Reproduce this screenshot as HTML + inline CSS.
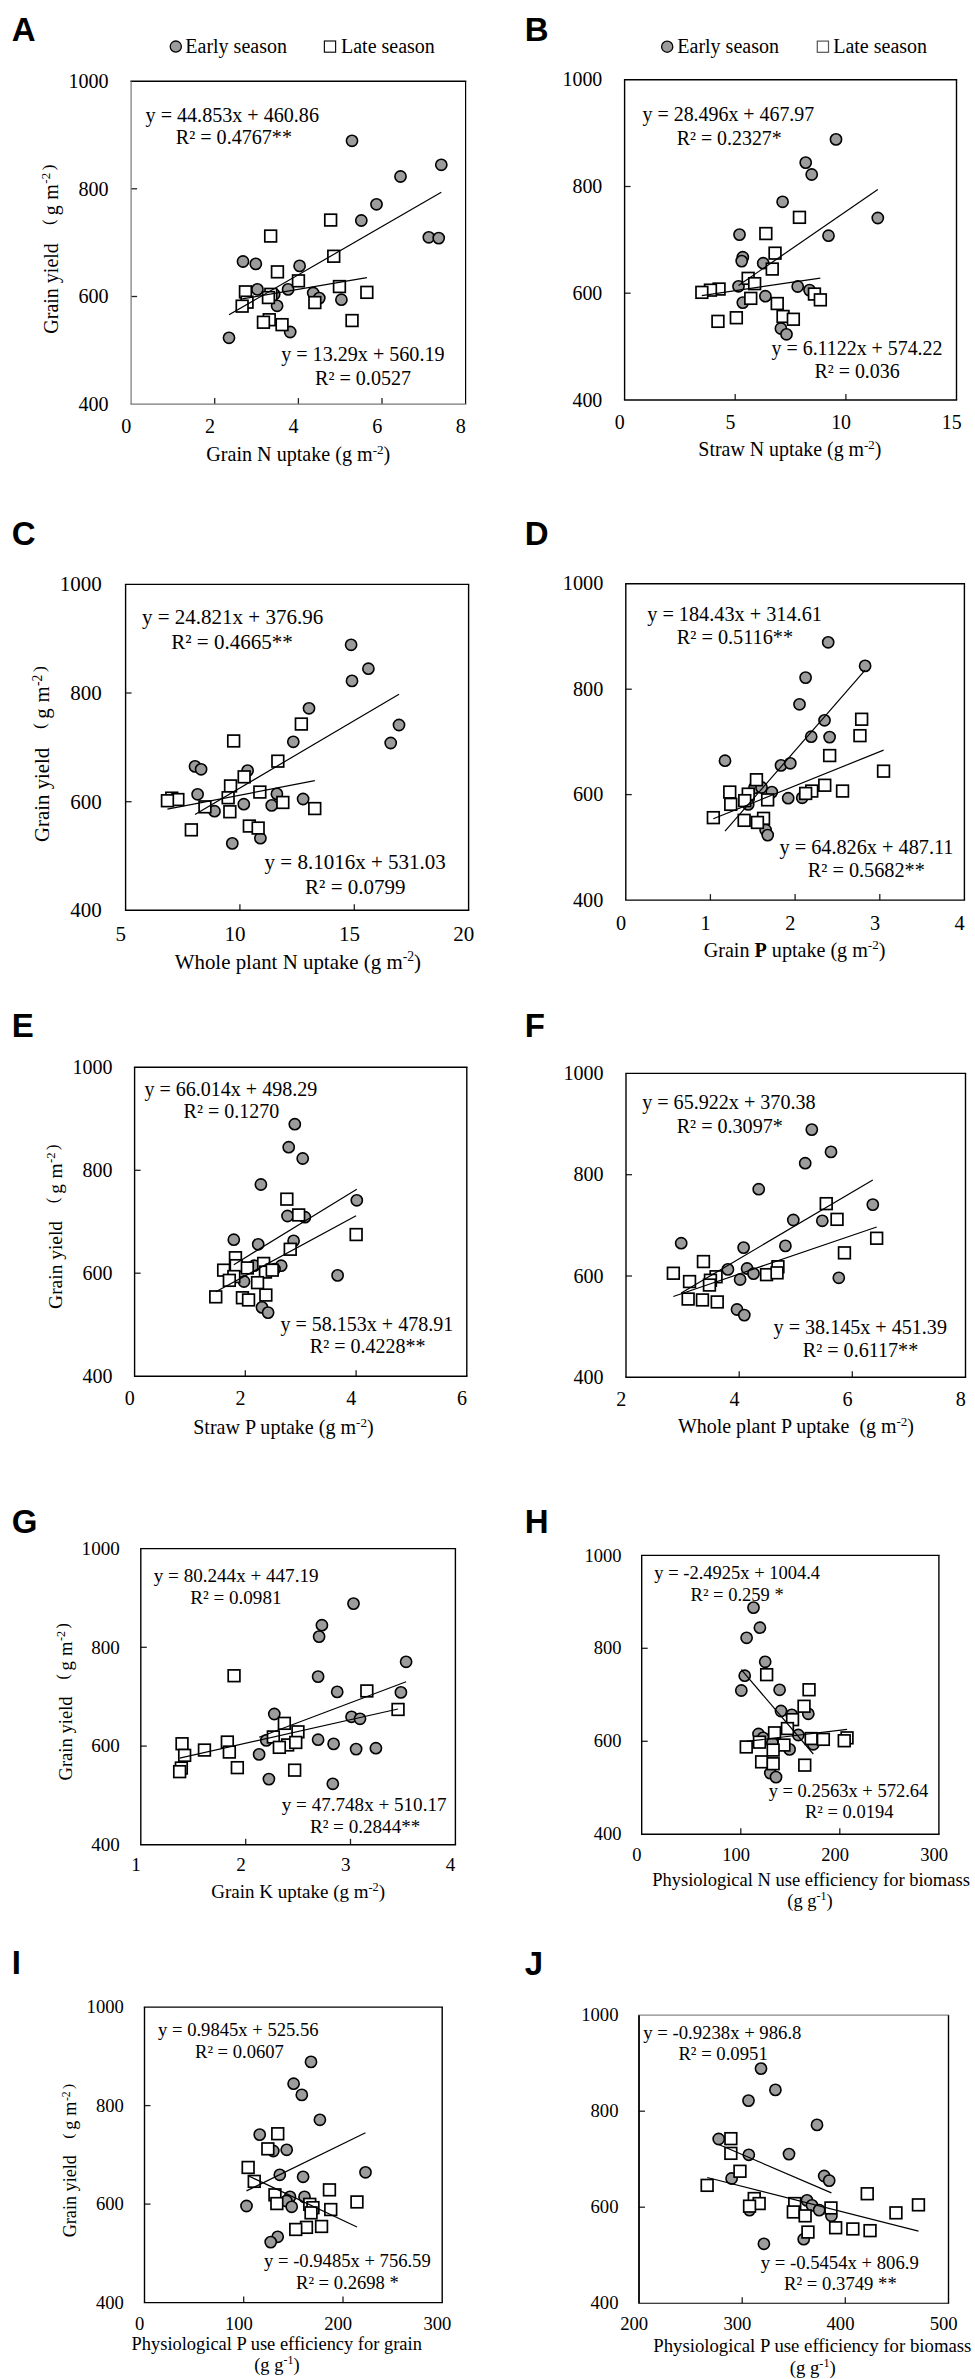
<!DOCTYPE html>
<html><head><meta charset="utf-8"><style>
html,body{margin:0;padding:0;background:#fff;}
body{width:975px;height:2379px;overflow:hidden;}
svg{display:block;font-family:"Liberation Serif", serif;fill:#000;}
svg text{font-family:"Liberation Serif", serif;}
svg text.lt{font-family:"Liberation Sans", sans-serif;font-weight:bold;font-size:33px;}
</style></head><body>
<svg width="975" height="2379" viewBox="0 0 975 2379">
<rect width="975" height="2379" fill="#fff"/>
<g id="pA"><text x="11.8" y="40.7" class="lt">A</text><text x="108.6" y="87.8" text-anchor="end" font-size="20.1">1000</text><text x="108.6" y="195.5" text-anchor="end" font-size="20.1">800</text><line x1="131.1" y1="188.8" x2="137.1" y2="188.8" stroke="#222" stroke-width="1.3"/><text x="108.6" y="303.1" text-anchor="end" font-size="20.1">600</text><line x1="131.1" y1="296.5" x2="137.1" y2="296.5" stroke="#222" stroke-width="1.3"/><text x="108.6" y="410.7" text-anchor="end" font-size="20.1">400</text><text x="126.3" y="433.2" text-anchor="middle" font-size="20.1">0</text><text x="209.9" y="433.2" text-anchor="middle" font-size="20.1">2</text><line x1="214.7" y1="404.1" x2="214.7" y2="398.1" stroke="#222" stroke-width="1.3"/><text x="293.6" y="433.2" text-anchor="middle" font-size="20.1">4</text><line x1="298.4" y1="404.1" x2="298.4" y2="398.1" stroke="#222" stroke-width="1.3"/><text x="377.2" y="433.2" text-anchor="middle" font-size="20.1">6</text><line x1="382.0" y1="404.1" x2="382.0" y2="398.1" stroke="#222" stroke-width="1.3"/><text x="460.8" y="433.2" text-anchor="middle" font-size="20.1">8</text><line x1="130.4" y1="81.2" x2="466.3" y2="81.2" stroke="#000" stroke-width="1.6"/><line x1="465.6" y1="81.2" x2="465.6" y2="404.1" stroke="#000" stroke-width="1.2"/><line x1="130.4" y1="404.1" x2="466.3" y2="404.1" stroke="#777" stroke-width="1.2"/><line x1="131.1" y1="81.2" x2="131.1" y2="404.1" stroke="#777" stroke-width="1.2"/><circle cx="352.0" cy="140.8" r="5.6" fill="#9c9c9c" stroke="#000" stroke-width="1.6"/><circle cx="441.3" cy="164.8" r="5.6" fill="#9c9c9c" stroke="#000" stroke-width="1.6"/><circle cx="400.5" cy="176.5" r="5.6" fill="#9c9c9c" stroke="#000" stroke-width="1.6"/><circle cx="376.5" cy="204.3" r="5.6" fill="#9c9c9c" stroke="#000" stroke-width="1.6"/><circle cx="361.3" cy="220.5" r="5.6" fill="#9c9c9c" stroke="#000" stroke-width="1.6"/><circle cx="428.8" cy="237.3" r="5.6" fill="#9c9c9c" stroke="#000" stroke-width="1.6"/><circle cx="438.7" cy="238.1" r="5.6" fill="#9c9c9c" stroke="#000" stroke-width="1.6"/><circle cx="243.0" cy="261.5" r="5.6" fill="#9c9c9c" stroke="#000" stroke-width="1.6"/><circle cx="255.8" cy="263.9" r="5.6" fill="#9c9c9c" stroke="#000" stroke-width="1.6"/><circle cx="299.6" cy="265.9" r="5.6" fill="#9c9c9c" stroke="#000" stroke-width="1.6"/><circle cx="274.2" cy="294.3" r="5.6" fill="#9c9c9c" stroke="#000" stroke-width="1.6"/><circle cx="257.4" cy="289.4" r="5.6" fill="#9c9c9c" stroke="#000" stroke-width="1.6"/><circle cx="288.1" cy="289.4" r="5.6" fill="#9c9c9c" stroke="#000" stroke-width="1.6"/><circle cx="313.2" cy="293.0" r="5.6" fill="#9c9c9c" stroke="#000" stroke-width="1.6"/><circle cx="319.3" cy="298.1" r="5.6" fill="#9c9c9c" stroke="#000" stroke-width="1.6"/><circle cx="341.4" cy="299.7" r="5.6" fill="#9c9c9c" stroke="#000" stroke-width="1.6"/><circle cx="277.1" cy="305.8" r="5.6" fill="#9c9c9c" stroke="#000" stroke-width="1.6"/><circle cx="290.2" cy="332.0" r="5.6" fill="#9c9c9c" stroke="#000" stroke-width="1.6"/><circle cx="229.0" cy="337.8" r="5.6" fill="#9c9c9c" stroke="#000" stroke-width="1.6"/><rect x="324.8" y="214.2" width="11.7" height="11.7" fill="#fff" stroke="#000" stroke-width="1.7"/><rect x="264.8" y="230.2" width="11.7" height="11.7" fill="#fff" stroke="#000" stroke-width="1.7"/><rect x="327.9" y="250.4" width="11.7" height="11.7" fill="#fff" stroke="#000" stroke-width="1.7"/><rect x="271.6" y="266.0" width="11.7" height="11.7" fill="#fff" stroke="#000" stroke-width="1.7"/><rect x="292.6" y="275.0" width="11.7" height="11.7" fill="#fff" stroke="#000" stroke-width="1.7"/><rect x="333.6" y="280.7" width="11.7" height="11.7" fill="#fff" stroke="#000" stroke-width="1.7"/><rect x="361.0" y="286.5" width="11.7" height="11.7" fill="#fff" stroke="#000" stroke-width="1.7"/><rect x="239.6" y="286.0" width="11.7" height="11.7" fill="#fff" stroke="#000" stroke-width="1.7"/><rect x="265.0" y="288.5" width="11.7" height="11.7" fill="#fff" stroke="#000" stroke-width="1.7"/><rect x="262.6" y="291.7" width="11.7" height="11.7" fill="#fff" stroke="#000" stroke-width="1.7"/><rect x="241.2" y="296.3" width="11.7" height="11.7" fill="#fff" stroke="#000" stroke-width="1.7"/><rect x="236.3" y="300.3" width="11.7" height="11.7" fill="#fff" stroke="#000" stroke-width="1.7"/><rect x="309.0" y="296.7" width="11.7" height="11.7" fill="#fff" stroke="#000" stroke-width="1.7"/><rect x="346.2" y="314.7" width="11.7" height="11.7" fill="#fff" stroke="#000" stroke-width="1.7"/><rect x="263.4" y="313.9" width="11.7" height="11.7" fill="#fff" stroke="#000" stroke-width="1.7"/><rect x="257.6" y="316.4" width="11.7" height="11.7" fill="#fff" stroke="#000" stroke-width="1.7"/><rect x="276.2" y="318.8" width="11.7" height="11.7" fill="#fff" stroke="#000" stroke-width="1.7"/><line x1="229.0" y1="314.8" x2="441.3" y2="192.3" stroke="#000" stroke-width="1.2"/><line x1="242.2" y1="298.9" x2="366.9" y2="277.6" stroke="#000" stroke-width="1.2"/><text x="145.6" y="121.7" font-size="20.1">y = 44.853x + 460.86</text><text x="175.8" y="144.1" font-size="20.1">R² = 0.4767**</text><text x="281.2" y="361.2" font-size="20.1">y = 13.29x + 560.19</text><text x="315.0" y="385.2" font-size="20.1">R² = 0.0527</text><text x="298.3" y="461.2" text-anchor="middle" font-size="20.1">Grain N uptake (g m<tspan dy="-7.2" font-size="13.1">-2</tspan><tspan dy="7.2">)</tspan></text><text transform="translate(57.5,333.7) rotate(-90)" font-size="20.00">Grain yield<tspan x="108.6" y="-3.8" font-size="17.00">(</tspan><tspan x="118.4" y="0">g</tspan><tspan x="133.9">m</tspan><tspan x="150.0" y="-7.2" font-size="13.00">-2</tspan><tspan x="163.4" y="-3.8" font-size="17.00">)</tspan></text></g>
<g id="pB"><text x="524.8" y="40.5" class="lt">B</text><text x="602.3" y="86.3" text-anchor="end" font-size="19.9">1000</text><text x="602.3" y="193.0" text-anchor="end" font-size="19.9">800</text><line x1="624.6" y1="186.5" x2="630.6" y2="186.5" stroke="#222" stroke-width="1.3"/><text x="602.3" y="299.8" text-anchor="end" font-size="19.9">600</text><line x1="624.6" y1="293.2" x2="630.6" y2="293.2" stroke="#222" stroke-width="1.3"/><text x="602.3" y="406.6" text-anchor="end" font-size="19.9">400</text><text x="619.8" y="428.9" text-anchor="middle" font-size="19.9">0</text><text x="730.4" y="428.9" text-anchor="middle" font-size="19.9">5</text><line x1="735.2" y1="400" x2="735.2" y2="394" stroke="#222" stroke-width="1.3"/><text x="841.1" y="428.9" text-anchor="middle" font-size="19.9">10</text><line x1="845.9" y1="400" x2="845.9" y2="394" stroke="#222" stroke-width="1.3"/><text x="951.7" y="428.9" text-anchor="middle" font-size="19.9">15</text><line x1="623.9" y1="79.7" x2="957.2" y2="79.7" stroke="#000" stroke-width="1.4"/><line x1="956.5" y1="79.7" x2="956.5" y2="400" stroke="#000" stroke-width="1.4"/><line x1="623.9" y1="400" x2="957.2" y2="400" stroke="#000" stroke-width="1.4"/><line x1="624.6" y1="79.7" x2="624.6" y2="400" stroke="#000" stroke-width="1.4"/><circle cx="836.0" cy="139.4" r="5.6" fill="#9c9c9c" stroke="#000" stroke-width="1.6"/><circle cx="805.7" cy="162.6" r="5.6" fill="#9c9c9c" stroke="#000" stroke-width="1.6"/><circle cx="811.7" cy="174.5" r="5.6" fill="#9c9c9c" stroke="#000" stroke-width="1.6"/><circle cx="782.6" cy="201.8" r="5.6" fill="#9c9c9c" stroke="#000" stroke-width="1.6"/><circle cx="877.8" cy="218.0" r="5.6" fill="#9c9c9c" stroke="#000" stroke-width="1.6"/><circle cx="739.5" cy="234.6" r="5.6" fill="#9c9c9c" stroke="#000" stroke-width="1.6"/><circle cx="828.5" cy="235.7" r="5.6" fill="#9c9c9c" stroke="#000" stroke-width="1.6"/><circle cx="742.8" cy="257.2" r="5.6" fill="#9c9c9c" stroke="#000" stroke-width="1.6"/><circle cx="741.7" cy="261.1" r="5.6" fill="#9c9c9c" stroke="#000" stroke-width="1.6"/><circle cx="763.2" cy="263.2" r="5.6" fill="#9c9c9c" stroke="#000" stroke-width="1.6"/><circle cx="738.5" cy="286.3" r="5.6" fill="#9c9c9c" stroke="#000" stroke-width="1.6"/><circle cx="797.7" cy="286.5" r="5.6" fill="#9c9c9c" stroke="#000" stroke-width="1.6"/><circle cx="809.5" cy="290.1" r="5.6" fill="#9c9c9c" stroke="#000" stroke-width="1.6"/><circle cx="765.4" cy="296.2" r="5.6" fill="#9c9c9c" stroke="#000" stroke-width="1.6"/><circle cx="742.8" cy="302.6" r="5.6" fill="#9c9c9c" stroke="#000" stroke-width="1.6"/><circle cx="780.9" cy="328.5" r="5.6" fill="#9c9c9c" stroke="#000" stroke-width="1.6"/><circle cx="786.5" cy="334.3" r="5.6" fill="#9c9c9c" stroke="#000" stroke-width="1.6"/><rect x="793.6" y="211.5" width="11.7" height="11.7" fill="#fff" stroke="#000" stroke-width="1.7"/><rect x="760.0" y="227.7" width="11.7" height="11.7" fill="#fff" stroke="#000" stroke-width="1.7"/><rect x="769.2" y="247.3" width="11.7" height="11.7" fill="#fff" stroke="#000" stroke-width="1.7"/><rect x="766.4" y="263.2" width="11.7" height="11.7" fill="#fff" stroke="#000" stroke-width="1.7"/><rect x="742.3" y="272.5" width="11.7" height="11.7" fill="#fff" stroke="#000" stroke-width="1.7"/><rect x="748.8" y="277.8" width="11.7" height="11.7" fill="#fff" stroke="#000" stroke-width="1.7"/><rect x="713.2" y="283.2" width="11.7" height="11.7" fill="#fff" stroke="#000" stroke-width="1.7"/><rect x="704.6" y="284.3" width="11.7" height="11.7" fill="#fff" stroke="#000" stroke-width="1.7"/><rect x="696.0" y="286.5" width="11.7" height="11.7" fill="#fff" stroke="#000" stroke-width="1.7"/><rect x="744.9" y="292.5" width="11.7" height="11.7" fill="#fff" stroke="#000" stroke-width="1.7"/><rect x="771.4" y="297.7" width="11.7" height="11.7" fill="#fff" stroke="#000" stroke-width="1.7"/><rect x="808.6" y="288.2" width="11.7" height="11.7" fill="#fff" stroke="#000" stroke-width="1.7"/><rect x="814.5" y="294.0" width="11.7" height="11.7" fill="#fff" stroke="#000" stroke-width="1.7"/><rect x="777.2" y="310.6" width="11.7" height="11.7" fill="#fff" stroke="#000" stroke-width="1.7"/><rect x="787.5" y="313.4" width="11.7" height="11.7" fill="#fff" stroke="#000" stroke-width="1.7"/><rect x="730.5" y="311.9" width="11.7" height="11.7" fill="#fff" stroke="#000" stroke-width="1.7"/><rect x="712.1" y="315.5" width="11.7" height="11.7" fill="#fff" stroke="#000" stroke-width="1.7"/><line x1="738.5" y1="285.4" x2="877.8" y2="189.6" stroke="#000" stroke-width="1.2"/><line x1="701.8" y1="295.6" x2="820.3" y2="278.1" stroke="#000" stroke-width="1.2"/><text x="642.6" y="121.4" font-size="19.9">y = 28.496x + 467.97</text><text x="676.7" y="145.2" font-size="19.9">R² = 0.2327*</text><text x="771.6" y="354.5" font-size="19.9">y = 6.1122x + 574.22</text><text x="814.5" y="377.5" font-size="19.9">R² = 0.036</text><text x="789.9" y="456.2" text-anchor="middle" font-size="19.9">Straw N uptake (g m<tspan dy="-7.2" font-size="12.9">-2</tspan><tspan dy="7.2">)</tspan></text></g>
<g id="pC"><text x="11.8" y="545" class="lt">C</text><text x="101.7" y="591.3" text-anchor="end" font-size="21.0">1000</text><text x="101.7" y="700.0" text-anchor="end" font-size="21.0">800</text><line x1="125.6" y1="693.0" x2="131.6" y2="693.0" stroke="#222" stroke-width="1.3"/><text x="101.7" y="808.6" text-anchor="end" font-size="21.0">600</text><line x1="125.6" y1="801.7" x2="131.6" y2="801.7" stroke="#222" stroke-width="1.3"/><text x="101.7" y="917.2" text-anchor="end" font-size="21.0">400</text><text x="120.8" y="940.8" text-anchor="middle" font-size="21.0">5</text><text x="235.1" y="940.8" text-anchor="middle" font-size="21.0">10</text><line x1="239.9" y1="910.3" x2="239.9" y2="904.3" stroke="#222" stroke-width="1.3"/><text x="349.5" y="940.8" text-anchor="middle" font-size="21.0">15</text><line x1="354.3" y1="910.3" x2="354.3" y2="904.3" stroke="#222" stroke-width="1.3"/><text x="463.8" y="940.8" text-anchor="middle" font-size="21.0">20</text><line x1="124.89999999999999" y1="584.4" x2="469.3" y2="584.4" stroke="#000" stroke-width="1.4"/><line x1="468.6" y1="584.4" x2="468.6" y2="910.3" stroke="#000" stroke-width="1.4"/><line x1="124.89999999999999" y1="910.3" x2="469.3" y2="910.3" stroke="#000" stroke-width="1.4"/><line x1="125.6" y1="584.4" x2="125.6" y2="910.3" stroke="#000" stroke-width="1.4"/><circle cx="309.0" cy="708.3" r="5.6" fill="#9c9c9c" stroke="#000" stroke-width="1.6"/><circle cx="293.3" cy="741.8" r="5.6" fill="#9c9c9c" stroke="#000" stroke-width="1.6"/><circle cx="195.0" cy="766.4" r="5.6" fill="#9c9c9c" stroke="#000" stroke-width="1.6"/><circle cx="201.1" cy="769.3" r="5.6" fill="#9c9c9c" stroke="#000" stroke-width="1.6"/><circle cx="247.6" cy="770.6" r="5.6" fill="#9c9c9c" stroke="#000" stroke-width="1.6"/><circle cx="197.6" cy="794.3" r="5.6" fill="#9c9c9c" stroke="#000" stroke-width="1.6"/><circle cx="276.9" cy="793.9" r="5.6" fill="#9c9c9c" stroke="#000" stroke-width="1.6"/><circle cx="303.1" cy="799.0" r="5.6" fill="#9c9c9c" stroke="#000" stroke-width="1.6"/><circle cx="243.8" cy="804.2" r="5.6" fill="#9c9c9c" stroke="#000" stroke-width="1.6"/><circle cx="271.7" cy="805.4" r="5.6" fill="#9c9c9c" stroke="#000" stroke-width="1.6"/><circle cx="214.5" cy="811.2" r="5.6" fill="#9c9c9c" stroke="#000" stroke-width="1.6"/><circle cx="260.4" cy="838.2" r="5.6" fill="#9c9c9c" stroke="#000" stroke-width="1.6"/><circle cx="232.3" cy="843.4" r="5.6" fill="#9c9c9c" stroke="#000" stroke-width="1.6"/><circle cx="351.1" cy="644.8" r="5.6" fill="#9c9c9c" stroke="#000" stroke-width="1.6"/><circle cx="368.4" cy="668.7" r="5.6" fill="#9c9c9c" stroke="#000" stroke-width="1.6"/><circle cx="352.0" cy="680.9" r="5.6" fill="#9c9c9c" stroke="#000" stroke-width="1.6"/><circle cx="399.0" cy="725.0" r="5.6" fill="#9c9c9c" stroke="#000" stroke-width="1.6"/><circle cx="390.7" cy="743.0" r="5.6" fill="#9c9c9c" stroke="#000" stroke-width="1.6"/><rect x="295.5" y="718.2" width="11.7" height="11.7" fill="#fff" stroke="#000" stroke-width="1.7"/><rect x="227.8" y="735.1" width="11.7" height="11.7" fill="#fff" stroke="#000" stroke-width="1.7"/><rect x="272.0" y="755.3" width="11.7" height="11.7" fill="#fff" stroke="#000" stroke-width="1.7"/><rect x="238.3" y="771.0" width="11.7" height="11.7" fill="#fff" stroke="#000" stroke-width="1.7"/><rect x="224.7" y="780.1" width="11.7" height="11.7" fill="#fff" stroke="#000" stroke-width="1.7"/><rect x="254.0" y="786.2" width="11.7" height="11.7" fill="#fff" stroke="#000" stroke-width="1.7"/><rect x="222.3" y="791.9" width="11.7" height="11.7" fill="#fff" stroke="#000" stroke-width="1.7"/><rect x="165.9" y="792.3" width="11.7" height="11.7" fill="#fff" stroke="#000" stroke-width="1.7"/><rect x="172.0" y="793.7" width="11.7" height="11.7" fill="#fff" stroke="#000" stroke-width="1.7"/><rect x="161.6" y="794.9" width="11.7" height="11.7" fill="#fff" stroke="#000" stroke-width="1.7"/><rect x="199.1" y="801.0" width="11.7" height="11.7" fill="#fff" stroke="#000" stroke-width="1.7"/><rect x="224.0" y="805.9" width="11.7" height="11.7" fill="#fff" stroke="#000" stroke-width="1.7"/><rect x="277.0" y="796.6" width="11.7" height="11.7" fill="#fff" stroke="#000" stroke-width="1.7"/><rect x="308.9" y="802.7" width="11.7" height="11.7" fill="#fff" stroke="#000" stroke-width="1.7"/><rect x="243.5" y="820.2" width="11.7" height="11.7" fill="#fff" stroke="#000" stroke-width="1.7"/><rect x="252.3" y="822.2" width="11.7" height="11.7" fill="#fff" stroke="#000" stroke-width="1.7"/><rect x="185.5" y="824.0" width="11.7" height="11.7" fill="#fff" stroke="#000" stroke-width="1.7"/><line x1="195.0" y1="814.5" x2="399.0" y2="694.2" stroke="#000" stroke-width="1.2"/><line x1="167.4" y1="809.1" x2="314.8" y2="780.7" stroke="#000" stroke-width="1.2"/><text x="142.0" y="624.2" font-size="21.0">y = 24.821x + 376.96</text><text x="171.3" y="648.8" font-size="21.0">R² = 0.4665**</text><text x="264.6" y="869.2" font-size="21.0">y = 8.1016x + 531.03</text><text x="305.1" y="893.8" font-size="21.0">R² = 0.0799</text><text x="297.9" y="968.5" text-anchor="middle" font-size="20.9">Whole plant N uptake (g m<tspan dy="-7.5" font-size="13.6">-2</tspan><tspan dy="7.5">)</tspan></text><text transform="translate(49,841.9) rotate(-90)" font-size="20.80">Grain yield<tspan x="112.9" y="-4.0" font-size="17.68">(</tspan><tspan x="123.1" y="0">g</tspan><tspan x="139.3">m</tspan><tspan x="156.0" y="-7.5" font-size="13.52">-2</tspan><tspan x="169.9" y="-4.0" font-size="17.68">)</tspan></text></g>
<g id="pD"><text x="524.8" y="545" class="lt">D</text><text x="603.3" y="590.4" text-anchor="end" font-size="20.25">1000</text><text x="603.3" y="695.8" text-anchor="end" font-size="20.25">800</text><line x1="625.8" y1="689.2" x2="631.8" y2="689.2" stroke="#222" stroke-width="1.3"/><text x="603.3" y="801.3" text-anchor="end" font-size="20.25">600</text><line x1="625.8" y1="794.6" x2="631.8" y2="794.6" stroke="#222" stroke-width="1.3"/><text x="603.3" y="906.8" text-anchor="end" font-size="20.25">400</text><text x="621.0" y="929.5" text-anchor="middle" font-size="20.25">0</text><text x="705.6" y="929.5" text-anchor="middle" font-size="20.25">1</text><line x1="710.4" y1="900.1" x2="710.4" y2="894.1" stroke="#222" stroke-width="1.3"/><text x="790.3" y="929.5" text-anchor="middle" font-size="20.25">2</text><line x1="795.1" y1="900.1" x2="795.1" y2="894.1" stroke="#222" stroke-width="1.3"/><text x="875.0" y="929.5" text-anchor="middle" font-size="20.25">3</text><line x1="879.8" y1="900.1" x2="879.8" y2="894.1" stroke="#222" stroke-width="1.3"/><text x="959.6" y="929.5" text-anchor="middle" font-size="20.25">4</text><line x1="625.0999999999999" y1="583.7" x2="965.1" y2="583.7" stroke="#000" stroke-width="1.4"/><line x1="964.4" y1="583.7" x2="964.4" y2="900.1" stroke="#000" stroke-width="1.4"/><line x1="625.0999999999999" y1="900.1" x2="965.1" y2="900.1" stroke="#000" stroke-width="1.4"/><line x1="625.8" y1="583.7" x2="625.8" y2="900.1" stroke="#000" stroke-width="1.4"/><circle cx="828.2" cy="642.3" r="5.6" fill="#9c9c9c" stroke="#000" stroke-width="1.6"/><circle cx="865.1" cy="665.9" r="5.6" fill="#9c9c9c" stroke="#000" stroke-width="1.6"/><circle cx="805.6" cy="677.6" r="5.6" fill="#9c9c9c" stroke="#000" stroke-width="1.6"/><circle cx="799.5" cy="704.3" r="5.6" fill="#9c9c9c" stroke="#000" stroke-width="1.6"/><circle cx="824.5" cy="720.3" r="5.6" fill="#9c9c9c" stroke="#000" stroke-width="1.6"/><circle cx="811.2" cy="736.7" r="5.6" fill="#9c9c9c" stroke="#000" stroke-width="1.6"/><circle cx="829.6" cy="737.1" r="5.6" fill="#9c9c9c" stroke="#000" stroke-width="1.6"/><circle cx="725.0" cy="760.7" r="5.6" fill="#9c9c9c" stroke="#000" stroke-width="1.6"/><circle cx="781.0" cy="765.4" r="5.6" fill="#9c9c9c" stroke="#000" stroke-width="1.6"/><circle cx="790.3" cy="763.3" r="5.6" fill="#9c9c9c" stroke="#000" stroke-width="1.6"/><circle cx="754.4" cy="787.9" r="5.6" fill="#9c9c9c" stroke="#000" stroke-width="1.6"/><circle cx="761.5" cy="787.5" r="5.6" fill="#9c9c9c" stroke="#000" stroke-width="1.6"/><circle cx="771.8" cy="792.1" r="5.6" fill="#9c9c9c" stroke="#000" stroke-width="1.6"/><circle cx="788.2" cy="798.2" r="5.6" fill="#9c9c9c" stroke="#000" stroke-width="1.6"/><circle cx="802.2" cy="797.8" r="5.6" fill="#9c9c9c" stroke="#000" stroke-width="1.6"/><circle cx="748.2" cy="804.4" r="5.6" fill="#9c9c9c" stroke="#000" stroke-width="1.6"/><circle cx="765.6" cy="830.0" r="5.6" fill="#9c9c9c" stroke="#000" stroke-width="1.6"/><circle cx="767.7" cy="835.1" r="5.6" fill="#9c9c9c" stroke="#000" stroke-width="1.6"/><rect x="855.8" y="713.4" width="11.7" height="11.7" fill="#fff" stroke="#000" stroke-width="1.7"/><rect x="854.1" y="729.8" width="11.7" height="11.7" fill="#fff" stroke="#000" stroke-width="1.7"/><rect x="823.8" y="749.7" width="11.7" height="11.7" fill="#fff" stroke="#000" stroke-width="1.7"/><rect x="877.7" y="765.3" width="11.7" height="11.7" fill="#fff" stroke="#000" stroke-width="1.7"/><rect x="750.6" y="773.9" width="11.7" height="11.7" fill="#fff" stroke="#000" stroke-width="1.7"/><rect x="723.9" y="786.2" width="11.7" height="11.7" fill="#fff" stroke="#000" stroke-width="1.7"/><rect x="742.4" y="788.3" width="11.7" height="11.7" fill="#fff" stroke="#000" stroke-width="1.7"/><rect x="738.9" y="794.8" width="11.7" height="11.7" fill="#fff" stroke="#000" stroke-width="1.7"/><rect x="724.9" y="798.5" width="11.7" height="11.7" fill="#fff" stroke="#000" stroke-width="1.7"/><rect x="761.8" y="794.0" width="11.7" height="11.7" fill="#fff" stroke="#000" stroke-width="1.7"/><rect x="805.9" y="785.2" width="11.7" height="11.7" fill="#fff" stroke="#000" stroke-width="1.7"/><rect x="799.8" y="787.6" width="11.7" height="11.7" fill="#fff" stroke="#000" stroke-width="1.7"/><rect x="818.9" y="779.4" width="11.7" height="11.7" fill="#fff" stroke="#000" stroke-width="1.7"/><rect x="836.7" y="785.2" width="11.7" height="11.7" fill="#fff" stroke="#000" stroke-width="1.7"/><rect x="707.5" y="811.8" width="11.7" height="11.7" fill="#fff" stroke="#000" stroke-width="1.7"/><rect x="738.3" y="814.5" width="11.7" height="11.7" fill="#fff" stroke="#000" stroke-width="1.7"/><rect x="757.7" y="812.5" width="11.7" height="11.7" fill="#fff" stroke="#000" stroke-width="1.7"/><rect x="751.6" y="816.6" width="11.7" height="11.7" fill="#fff" stroke="#000" stroke-width="1.7"/><line x1="725.0" y1="831.1" x2="865.1" y2="670.2" stroke="#000" stroke-width="1.2"/><line x1="713.3" y1="818.8" x2="883.6" y2="750.1" stroke="#000" stroke-width="1.2"/><text x="647.2" y="621" font-size="20.25">y = 184.43x + 314.61</text><text x="676.8" y="644.4" font-size="20.25">R² = 0.5116**</text><text x="779.5" y="854.4" font-size="20.25">y = 64.826x + 487.11</text><text x="807.8" y="877.4" font-size="20.25">R² = 0.5682**</text><text x="794.6" y="956.6" text-anchor="middle" font-size="20.1">Grain <tspan font-weight="bold">P</tspan> uptake (g m<tspan dy="-7.2" font-size="13.1">-2</tspan><tspan dy="7.2">)</tspan></text></g>
<g id="pE"><text x="11.8" y="1036.5" class="lt">E</text><text x="112.6" y="1073.9" text-anchor="end" font-size="20.0">1000</text><text x="112.6" y="1176.9" text-anchor="end" font-size="20.0">800</text><line x1="134.6" y1="1170.3" x2="140.6" y2="1170.3" stroke="#222" stroke-width="1.3"/><text x="112.6" y="1279.8" text-anchor="end" font-size="20.0">600</text><line x1="134.6" y1="1273.2" x2="140.6" y2="1273.2" stroke="#222" stroke-width="1.3"/><text x="112.6" y="1382.8" text-anchor="end" font-size="20.0">400</text><text x="129.8" y="1405.2" text-anchor="middle" font-size="20.0">0</text><text x="240.5" y="1405.2" text-anchor="middle" font-size="20.0">2</text><line x1="245.3" y1="1376.2" x2="245.3" y2="1370.2" stroke="#222" stroke-width="1.3"/><text x="351.3" y="1405.2" text-anchor="middle" font-size="20.0">4</text><line x1="356.1" y1="1376.2" x2="356.1" y2="1370.2" stroke="#222" stroke-width="1.3"/><text x="462.0" y="1405.2" text-anchor="middle" font-size="20.0">6</text><line x1="133.9" y1="1067.3" x2="467.5" y2="1067.3" stroke="#000" stroke-width="1.4"/><line x1="466.8" y1="1067.3" x2="466.8" y2="1376.2" stroke="#000" stroke-width="1.4"/><line x1="133.9" y1="1376.2" x2="467.5" y2="1376.2" stroke="#000" stroke-width="1.4"/><line x1="134.6" y1="1067.3" x2="134.6" y2="1376.2" stroke="#000" stroke-width="1.4"/><circle cx="294.8" cy="1124.2" r="5.6" fill="#9c9c9c" stroke="#000" stroke-width="1.6"/><circle cx="288.7" cy="1147.2" r="5.6" fill="#9c9c9c" stroke="#000" stroke-width="1.6"/><circle cx="302.7" cy="1158.5" r="5.6" fill="#9c9c9c" stroke="#000" stroke-width="1.6"/><circle cx="260.9" cy="1184.5" r="5.6" fill="#9c9c9c" stroke="#000" stroke-width="1.6"/><circle cx="356.8" cy="1200.3" r="5.6" fill="#9c9c9c" stroke="#000" stroke-width="1.6"/><circle cx="287.5" cy="1216.0" r="5.6" fill="#9c9c9c" stroke="#000" stroke-width="1.6"/><circle cx="304.9" cy="1217.2" r="5.6" fill="#9c9c9c" stroke="#000" stroke-width="1.6"/><circle cx="233.8" cy="1239.7" r="5.6" fill="#9c9c9c" stroke="#000" stroke-width="1.6"/><circle cx="258.2" cy="1244.3" r="5.6" fill="#9c9c9c" stroke="#000" stroke-width="1.6"/><circle cx="293.6" cy="1240.9" r="5.6" fill="#9c9c9c" stroke="#000" stroke-width="1.6"/><circle cx="254.2" cy="1265.7" r="5.6" fill="#9c9c9c" stroke="#000" stroke-width="1.6"/><circle cx="281.2" cy="1265.7" r="5.6" fill="#9c9c9c" stroke="#000" stroke-width="1.6"/><circle cx="274.5" cy="1269.1" r="5.6" fill="#9c9c9c" stroke="#000" stroke-width="1.6"/><circle cx="244.0" cy="1281.5" r="5.6" fill="#9c9c9c" stroke="#000" stroke-width="1.6"/><circle cx="337.6" cy="1275.4" r="5.6" fill="#9c9c9c" stroke="#000" stroke-width="1.6"/><circle cx="262.0" cy="1307.4" r="5.6" fill="#9c9c9c" stroke="#000" stroke-width="1.6"/><circle cx="268.1" cy="1312.6" r="5.6" fill="#9c9c9c" stroke="#000" stroke-width="1.6"/><rect x="281.0" y="1193.3" width="11.7" height="11.7" fill="#fff" stroke="#000" stroke-width="1.7"/><rect x="292.8" y="1209.1" width="11.7" height="11.7" fill="#fff" stroke="#000" stroke-width="1.7"/><rect x="350.3" y="1228.7" width="11.7" height="11.7" fill="#fff" stroke="#000" stroke-width="1.7"/><rect x="284.4" y="1243.4" width="11.7" height="11.7" fill="#fff" stroke="#000" stroke-width="1.7"/><rect x="229.6" y="1251.9" width="11.7" height="11.7" fill="#fff" stroke="#000" stroke-width="1.7"/><rect x="217.8" y="1264.3" width="11.7" height="11.7" fill="#fff" stroke="#000" stroke-width="1.7"/><rect x="230.3" y="1259.8" width="11.7" height="11.7" fill="#fff" stroke="#000" stroke-width="1.7"/><rect x="241.5" y="1262.1" width="11.7" height="11.7" fill="#fff" stroke="#000" stroke-width="1.7"/><rect x="257.8" y="1257.6" width="11.7" height="11.7" fill="#fff" stroke="#000" stroke-width="1.7"/><rect x="259.6" y="1266.2" width="11.7" height="11.7" fill="#fff" stroke="#000" stroke-width="1.7"/><rect x="266.4" y="1264.3" width="11.7" height="11.7" fill="#fff" stroke="#000" stroke-width="1.7"/><rect x="228.0" y="1270.7" width="11.7" height="11.7" fill="#fff" stroke="#000" stroke-width="1.7"/><rect x="223.5" y="1274.5" width="11.7" height="11.7" fill="#fff" stroke="#000" stroke-width="1.7"/><rect x="251.7" y="1276.8" width="11.7" height="11.7" fill="#fff" stroke="#000" stroke-width="1.7"/><rect x="209.9" y="1291.0" width="11.7" height="11.7" fill="#fff" stroke="#000" stroke-width="1.7"/><rect x="236.6" y="1291.9" width="11.7" height="11.7" fill="#fff" stroke="#000" stroke-width="1.7"/><rect x="242.7" y="1294.1" width="11.7" height="11.7" fill="#fff" stroke="#000" stroke-width="1.7"/><rect x="260.0" y="1289.2" width="11.7" height="11.7" fill="#fff" stroke="#000" stroke-width="1.7"/><line x1="233.8" y1="1264.7" x2="356.8" y2="1189.2" stroke="#000" stroke-width="1.2"/><line x1="215.8" y1="1291.7" x2="356.1" y2="1215.8" stroke="#000" stroke-width="1.2"/><text x="144.6" y="1095.5" font-size="20.0">y = 66.014x + 498.29</text><text x="183.6" y="1118.3" font-size="20.0">R² = 0.1270</text><text x="280.6" y="1330.5" font-size="20.0">y = 58.153x + 478.91</text><text x="309.8" y="1353.3" font-size="20.0">R² = 0.4228**</text><text x="283.4" y="1434.2" text-anchor="middle" font-size="20.05">Straw P uptake (g m<tspan dy="-7.2" font-size="13.0">-2</tspan><tspan dy="7.2">)</tspan></text><text transform="translate(61.5,1308.9) rotate(-90)" font-size="19.46">Grain yield<tspan x="105.7" y="-3.7" font-size="16.54">(</tspan><tspan x="115.2" y="0">g</tspan><tspan x="130.3">m</tspan><tspan x="145.9" y="-7.0" font-size="12.65">-2</tspan><tspan x="159.0" y="-3.7" font-size="16.54">)</tspan></text></g>
<g id="pF"><text x="524.8" y="1037" class="lt">F</text><text x="603.6" y="1080.0" text-anchor="end" font-size="20.1">1000</text><text x="603.6" y="1181.3" text-anchor="end" font-size="20.1">800</text><line x1="626" y1="1174.7" x2="632" y2="1174.7" stroke="#222" stroke-width="1.3"/><text x="603.6" y="1282.6" text-anchor="end" font-size="20.1">600</text><line x1="626" y1="1276.0" x2="632" y2="1276.0" stroke="#222" stroke-width="1.3"/><text x="603.6" y="1383.9" text-anchor="end" font-size="20.1">400</text><text x="621.2" y="1406.4" text-anchor="middle" font-size="20.1">2</text><text x="734.4" y="1406.4" text-anchor="middle" font-size="20.1">4</text><line x1="739.2" y1="1377.3" x2="739.2" y2="1371.3" stroke="#222" stroke-width="1.3"/><text x="847.5" y="1406.4" text-anchor="middle" font-size="20.1">6</text><line x1="852.3" y1="1377.3" x2="852.3" y2="1371.3" stroke="#222" stroke-width="1.3"/><text x="960.7" y="1406.4" text-anchor="middle" font-size="20.1">8</text><line x1="625.3" y1="1073.4" x2="966.2" y2="1073.4" stroke="#000" stroke-width="1.4"/><line x1="965.5" y1="1073.4" x2="965.5" y2="1377.3" stroke="#000" stroke-width="1.4"/><line x1="625.3" y1="1377.3" x2="966.2" y2="1377.3" stroke="#000" stroke-width="1.4"/><line x1="626" y1="1073.4" x2="626" y2="1377.3" stroke="#000" stroke-width="1.4"/><circle cx="758.7" cy="1189.2" r="5.6" fill="#9c9c9c" stroke="#000" stroke-width="1.6"/><circle cx="793.3" cy="1220.0" r="5.6" fill="#9c9c9c" stroke="#000" stroke-width="1.6"/><circle cx="681.2" cy="1243.2" r="5.6" fill="#9c9c9c" stroke="#000" stroke-width="1.6"/><circle cx="743.6" cy="1247.6" r="5.6" fill="#9c9c9c" stroke="#000" stroke-width="1.6"/><circle cx="785.4" cy="1245.9" r="5.6" fill="#9c9c9c" stroke="#000" stroke-width="1.6"/><circle cx="727.9" cy="1269.4" r="5.6" fill="#9c9c9c" stroke="#000" stroke-width="1.6"/><circle cx="747.1" cy="1268.5" r="5.6" fill="#9c9c9c" stroke="#000" stroke-width="1.6"/><circle cx="753.5" cy="1273.7" r="5.6" fill="#9c9c9c" stroke="#000" stroke-width="1.6"/><circle cx="740.1" cy="1279.5" r="5.6" fill="#9c9c9c" stroke="#000" stroke-width="1.6"/><circle cx="737.0" cy="1309.5" r="5.6" fill="#9c9c9c" stroke="#000" stroke-width="1.6"/><circle cx="744.3" cy="1315.1" r="5.6" fill="#9c9c9c" stroke="#000" stroke-width="1.6"/><circle cx="811.8" cy="1129.6" r="5.6" fill="#9c9c9c" stroke="#000" stroke-width="1.6"/><circle cx="831.0" cy="1151.9" r="5.6" fill="#9c9c9c" stroke="#000" stroke-width="1.6"/><circle cx="805.2" cy="1163.2" r="5.6" fill="#9c9c9c" stroke="#000" stroke-width="1.6"/><circle cx="872.8" cy="1204.6" r="5.6" fill="#9c9c9c" stroke="#000" stroke-width="1.6"/><circle cx="822.3" cy="1220.8" r="5.6" fill="#9c9c9c" stroke="#000" stroke-width="1.6"/><circle cx="838.8" cy="1277.8" r="5.6" fill="#9c9c9c" stroke="#000" stroke-width="1.6"/><rect x="697.6" y="1255.7" width="11.7" height="11.7" fill="#fff" stroke="#000" stroke-width="1.7"/><rect x="667.5" y="1267.4" width="11.7" height="11.7" fill="#fff" stroke="#000" stroke-width="1.7"/><rect x="683.7" y="1275.7" width="11.7" height="11.7" fill="#fff" stroke="#000" stroke-width="1.7"/><rect x="710.2" y="1270.9" width="11.7" height="11.7" fill="#fff" stroke="#000" stroke-width="1.7"/><rect x="704.6" y="1274.4" width="11.7" height="11.7" fill="#fff" stroke="#000" stroke-width="1.7"/><rect x="703.6" y="1279.2" width="11.7" height="11.7" fill="#fff" stroke="#000" stroke-width="1.7"/><rect x="772.1" y="1260.9" width="11.7" height="11.7" fill="#fff" stroke="#000" stroke-width="1.7"/><rect x="760.7" y="1268.8" width="11.7" height="11.7" fill="#fff" stroke="#000" stroke-width="1.7"/><rect x="771.2" y="1267.0" width="11.7" height="11.7" fill="#fff" stroke="#000" stroke-width="1.7"/><rect x="682.3" y="1293.2" width="11.7" height="11.7" fill="#fff" stroke="#000" stroke-width="1.7"/><rect x="696.6" y="1294.1" width="11.7" height="11.7" fill="#fff" stroke="#000" stroke-width="1.7"/><rect x="711.4" y="1296.1" width="11.7" height="11.7" fill="#fff" stroke="#000" stroke-width="1.7"/><rect x="820.4" y="1197.8" width="11.7" height="11.7" fill="#fff" stroke="#000" stroke-width="1.7"/><rect x="831.2" y="1213.5" width="11.7" height="11.7" fill="#fff" stroke="#000" stroke-width="1.7"/><rect x="870.8" y="1232.4" width="11.7" height="11.7" fill="#fff" stroke="#000" stroke-width="1.7"/><rect x="838.6" y="1247.0" width="11.7" height="11.7" fill="#fff" stroke="#000" stroke-width="1.7"/><line x1="681.2" y1="1293.0" x2="872.8" y2="1179.9" stroke="#000" stroke-width="1.2"/><line x1="673.3" y1="1296.5" x2="876.7" y2="1227.0" stroke="#000" stroke-width="1.2"/><text x="642.2" y="1109.1" font-size="20.1">y = 65.922x + 370.38</text><text x="676.7" y="1132.5" font-size="20.1">R² = 0.3097*</text><text x="773.6" y="1333.5" font-size="20.1">y = 38.145x + 451.39</text><text x="802.8" y="1356.9" font-size="20.1">R² = 0.6117**</text><text x="796" y="1433.2" text-anchor="middle" font-size="19.95">Whole plant P uptake  (g m<tspan dy="-7.2" font-size="13.0">-2</tspan><tspan dy="7.2">)</tspan></text></g>
<g id="pG"><text x="11.8" y="1532.7" class="lt">G</text><text x="119.8" y="1554.9" text-anchor="end" font-size="19.1">1000</text><text x="119.8" y="1653.6" text-anchor="end" font-size="19.1">800</text><line x1="140.8" y1="1647.3" x2="146.8" y2="1647.3" stroke="#222" stroke-width="1.3"/><text x="119.8" y="1752.4" text-anchor="end" font-size="19.1">600</text><line x1="140.8" y1="1746.1" x2="146.8" y2="1746.1" stroke="#222" stroke-width="1.3"/><text x="119.8" y="1851.1" text-anchor="end" font-size="19.1">400</text><text x="136.0" y="1871.3" text-anchor="middle" font-size="19.1">1</text><text x="240.9" y="1871.3" text-anchor="middle" font-size="19.1">2</text><line x1="245.7" y1="1844.8" x2="245.7" y2="1838.8" stroke="#222" stroke-width="1.3"/><text x="345.7" y="1871.3" text-anchor="middle" font-size="19.1">3</text><line x1="350.5" y1="1844.8" x2="350.5" y2="1838.8" stroke="#222" stroke-width="1.3"/><text x="450.6" y="1871.3" text-anchor="middle" font-size="19.1">4</text><line x1="140.10000000000002" y1="1548.6" x2="456.09999999999997" y2="1548.6" stroke="#000" stroke-width="1.4"/><line x1="455.4" y1="1548.6" x2="455.4" y2="1844.8" stroke="#000" stroke-width="1.4"/><line x1="140.10000000000002" y1="1844.8" x2="456.09999999999997" y2="1844.8" stroke="#000" stroke-width="1.4"/><line x1="140.8" y1="1548.6" x2="140.8" y2="1844.8" stroke="#000" stroke-width="1.4"/><circle cx="274.3" cy="1714.0" r="5.6" fill="#9c9c9c" stroke="#000" stroke-width="1.6"/><circle cx="266.3" cy="1740.4" r="5.6" fill="#9c9c9c" stroke="#000" stroke-width="1.6"/><circle cx="259.1" cy="1754.4" r="5.6" fill="#9c9c9c" stroke="#000" stroke-width="1.6"/><circle cx="268.9" cy="1779.1" r="5.6" fill="#9c9c9c" stroke="#000" stroke-width="1.6"/><circle cx="353.5" cy="1603.6" r="5.6" fill="#9c9c9c" stroke="#000" stroke-width="1.6"/><circle cx="321.9" cy="1625.2" r="5.6" fill="#9c9c9c" stroke="#000" stroke-width="1.6"/><circle cx="319.1" cy="1636.6" r="5.6" fill="#9c9c9c" stroke="#000" stroke-width="1.6"/><circle cx="406.1" cy="1661.8" r="5.6" fill="#9c9c9c" stroke="#000" stroke-width="1.6"/><circle cx="318.1" cy="1676.6" r="5.6" fill="#9c9c9c" stroke="#000" stroke-width="1.6"/><circle cx="337.2" cy="1691.9" r="5.6" fill="#9c9c9c" stroke="#000" stroke-width="1.6"/><circle cx="400.9" cy="1692.4" r="5.6" fill="#9c9c9c" stroke="#000" stroke-width="1.6"/><circle cx="351.5" cy="1716.8" r="5.6" fill="#9c9c9c" stroke="#000" stroke-width="1.6"/><circle cx="360.0" cy="1718.8" r="5.6" fill="#9c9c9c" stroke="#000" stroke-width="1.6"/><circle cx="318.1" cy="1739.7" r="5.6" fill="#9c9c9c" stroke="#000" stroke-width="1.6"/><circle cx="333.6" cy="1743.9" r="5.6" fill="#9c9c9c" stroke="#000" stroke-width="1.6"/><circle cx="356.1" cy="1749.1" r="5.6" fill="#9c9c9c" stroke="#000" stroke-width="1.6"/><circle cx="375.9" cy="1748.2" r="5.6" fill="#9c9c9c" stroke="#000" stroke-width="1.6"/><circle cx="332.8" cy="1783.8" r="5.6" fill="#9c9c9c" stroke="#000" stroke-width="1.6"/><rect x="228.2" y="1669.9" width="11.7" height="11.7" fill="#fff" stroke="#000" stroke-width="1.7"/><rect x="278.5" y="1717.5" width="11.7" height="11.7" fill="#fff" stroke="#000" stroke-width="1.7"/><rect x="267.5" y="1731.1" width="11.7" height="11.7" fill="#fff" stroke="#000" stroke-width="1.7"/><rect x="281.8" y="1739.1" width="11.7" height="11.7" fill="#fff" stroke="#000" stroke-width="1.7"/><rect x="273.5" y="1741.5" width="11.7" height="11.7" fill="#fff" stroke="#000" stroke-width="1.7"/><rect x="176.2" y="1737.9" width="11.7" height="11.7" fill="#fff" stroke="#000" stroke-width="1.7"/><rect x="178.8" y="1749.5" width="11.7" height="11.7" fill="#fff" stroke="#000" stroke-width="1.7"/><rect x="198.6" y="1744.2" width="11.7" height="11.7" fill="#fff" stroke="#000" stroke-width="1.7"/><rect x="221.5" y="1736.2" width="11.7" height="11.7" fill="#fff" stroke="#000" stroke-width="1.7"/><rect x="223.5" y="1746.2" width="11.7" height="11.7" fill="#fff" stroke="#000" stroke-width="1.7"/><rect x="231.5" y="1761.8" width="11.7" height="11.7" fill="#fff" stroke="#000" stroke-width="1.7"/><rect x="175.5" y="1762.2" width="11.7" height="11.7" fill="#fff" stroke="#000" stroke-width="1.7"/><rect x="173.8" y="1765.8" width="11.7" height="11.7" fill="#fff" stroke="#000" stroke-width="1.7"/><rect x="361.0" y="1685.1" width="11.7" height="11.7" fill="#fff" stroke="#000" stroke-width="1.7"/><rect x="392.2" y="1703.6" width="11.7" height="11.7" fill="#fff" stroke="#000" stroke-width="1.7"/><rect x="292.1" y="1726.0" width="11.7" height="11.7" fill="#fff" stroke="#000" stroke-width="1.7"/><rect x="289.9" y="1736.6" width="11.7" height="11.7" fill="#fff" stroke="#000" stroke-width="1.7"/><rect x="288.8" y="1764.3" width="11.7" height="11.7" fill="#fff" stroke="#000" stroke-width="1.7"/><line x1="259.1" y1="1737.2" x2="406.1" y2="1681.7" stroke="#000" stroke-width="1.2"/><line x1="179.6" y1="1758.1" x2="398.0" y2="1709.0" stroke="#000" stroke-width="1.2"/><text x="153.8" y="1581.9" font-size="19.1">y = 80.244x + 447.19</text><text x="190.2" y="1603.5" font-size="19.1">R² = 0.0981</text><text x="281.8" y="1810.8" font-size="19.1">y = 47.748x + 510.17</text><text x="309.9" y="1832.6" font-size="19.1">R² = 0.2844**</text><text x="298.2" y="1897.7" text-anchor="middle" font-size="19.0">Grain K uptake (g m<tspan dy="-6.8" font-size="12.3">-2</tspan><tspan dy="6.8">)</tspan></text><text transform="translate(71.5,1780.5) rotate(-90)" font-size="18.60">Grain yield<tspan x="101.0" y="-3.5" font-size="15.81">(</tspan><tspan x="110.1" y="0">g</tspan><tspan x="124.5">m</tspan><tspan x="139.5" y="-6.7" font-size="12.09">-2</tspan><tspan x="152.0" y="-3.5" font-size="15.81">)</tspan></text></g>
<g id="pH"><text x="524.8" y="1532.5" class="lt">H</text><text x="621.4" y="1561.5" text-anchor="end" font-size="18.5">1000</text><text x="621.4" y="1654.4" text-anchor="end" font-size="18.5">800</text><line x1="641.7" y1="1648.3" x2="647.7" y2="1648.3" stroke="#222" stroke-width="1.3"/><text x="621.4" y="1747.4" text-anchor="end" font-size="18.5">600</text><line x1="641.7" y1="1741.3" x2="647.7" y2="1741.3" stroke="#222" stroke-width="1.3"/><text x="621.4" y="1840.3" text-anchor="end" font-size="18.5">400</text><text x="636.9" y="1861.0" text-anchor="middle" font-size="18.5">0</text><text x="736.0" y="1861.0" text-anchor="middle" font-size="18.5">100</text><line x1="740.8" y1="1834.2" x2="740.8" y2="1828.2" stroke="#222" stroke-width="1.3"/><text x="835.0" y="1861.0" text-anchor="middle" font-size="18.5">200</text><line x1="839.8" y1="1834.2" x2="839.8" y2="1828.2" stroke="#222" stroke-width="1.3"/><text x="934.1" y="1861.0" text-anchor="middle" font-size="18.5">300</text><line x1="641.0" y1="1555.4" x2="939.6" y2="1555.4" stroke="#000" stroke-width="1.4"/><line x1="938.9" y1="1555.4" x2="938.9" y2="1834.2" stroke="#000" stroke-width="1.4"/><line x1="641.0" y1="1834.2" x2="939.6" y2="1834.2" stroke="#000" stroke-width="1.4"/><line x1="641.7" y1="1555.4" x2="641.7" y2="1834.2" stroke="#000" stroke-width="1.4"/><circle cx="753.5" cy="1607.6" r="5.6" fill="#9c9c9c" stroke="#000" stroke-width="1.6"/><circle cx="759.9" cy="1627.7" r="5.6" fill="#9c9c9c" stroke="#000" stroke-width="1.6"/><circle cx="746.6" cy="1637.8" r="5.6" fill="#9c9c9c" stroke="#000" stroke-width="1.6"/><circle cx="765.2" cy="1661.8" r="5.6" fill="#9c9c9c" stroke="#000" stroke-width="1.6"/><circle cx="744.7" cy="1675.7" r="5.6" fill="#9c9c9c" stroke="#000" stroke-width="1.6"/><circle cx="741.3" cy="1690.5" r="5.6" fill="#9c9c9c" stroke="#000" stroke-width="1.6"/><circle cx="779.6" cy="1689.8" r="5.6" fill="#9c9c9c" stroke="#000" stroke-width="1.6"/><circle cx="781.0" cy="1711.0" r="5.6" fill="#9c9c9c" stroke="#000" stroke-width="1.6"/><circle cx="791.8" cy="1714.9" r="5.6" fill="#9c9c9c" stroke="#000" stroke-width="1.6"/><circle cx="808.3" cy="1713.8" r="5.6" fill="#9c9c9c" stroke="#000" stroke-width="1.6"/><circle cx="758.5" cy="1734.0" r="5.6" fill="#9c9c9c" stroke="#000" stroke-width="1.6"/><circle cx="798.3" cy="1735.0" r="5.6" fill="#9c9c9c" stroke="#000" stroke-width="1.6"/><circle cx="763.1" cy="1737.9" r="5.6" fill="#9c9c9c" stroke="#000" stroke-width="1.6"/><circle cx="772.4" cy="1742.9" r="5.6" fill="#9c9c9c" stroke="#000" stroke-width="1.6"/><circle cx="789.6" cy="1749.4" r="5.6" fill="#9c9c9c" stroke="#000" stroke-width="1.6"/><circle cx="813.3" cy="1744.3" r="5.6" fill="#9c9c9c" stroke="#000" stroke-width="1.6"/><circle cx="770.3" cy="1773.1" r="5.6" fill="#9c9c9c" stroke="#000" stroke-width="1.6"/><circle cx="776.0" cy="1777.1" r="5.6" fill="#9c9c9c" stroke="#000" stroke-width="1.6"/><rect x="760.8" y="1668.8" width="11.7" height="11.7" fill="#fff" stroke="#000" stroke-width="1.7"/><rect x="803.2" y="1683.9" width="11.7" height="11.7" fill="#fff" stroke="#000" stroke-width="1.7"/><rect x="798.2" y="1700.4" width="11.7" height="11.7" fill="#fff" stroke="#000" stroke-width="1.7"/><rect x="786.7" y="1713.8" width="11.7" height="11.7" fill="#fff" stroke="#000" stroke-width="1.7"/><rect x="781.6" y="1722.7" width="11.7" height="11.7" fill="#fff" stroke="#000" stroke-width="1.7"/><rect x="768.7" y="1727.0" width="11.7" height="11.7" fill="#fff" stroke="#000" stroke-width="1.7"/><rect x="805.3" y="1732.7" width="11.7" height="11.7" fill="#fff" stroke="#000" stroke-width="1.7"/><rect x="817.5" y="1733.5" width="11.7" height="11.7" fill="#fff" stroke="#000" stroke-width="1.7"/><rect x="841.2" y="1732.0" width="11.7" height="11.7" fill="#fff" stroke="#000" stroke-width="1.7"/><rect x="838.4" y="1734.9" width="11.7" height="11.7" fill="#fff" stroke="#000" stroke-width="1.7"/><rect x="753.6" y="1736.3" width="11.7" height="11.7" fill="#fff" stroke="#000" stroke-width="1.7"/><rect x="740.4" y="1741.1" width="11.7" height="11.7" fill="#fff" stroke="#000" stroke-width="1.7"/><rect x="778.1" y="1739.2" width="11.7" height="11.7" fill="#fff" stroke="#000" stroke-width="1.7"/><rect x="767.3" y="1744.2" width="11.7" height="11.7" fill="#fff" stroke="#000" stroke-width="1.7"/><rect x="755.8" y="1756.0" width="11.7" height="11.7" fill="#fff" stroke="#000" stroke-width="1.7"/><rect x="767.3" y="1757.9" width="11.7" height="11.7" fill="#fff" stroke="#000" stroke-width="1.7"/><rect x="798.9" y="1759.3" width="11.7" height="11.7" fill="#fff" stroke="#000" stroke-width="1.7"/><line x1="741.3" y1="1669.7" x2="813.3" y2="1754.0" stroke="#000" stroke-width="1.2"/><line x1="746.3" y1="1741.4" x2="847.1" y2="1729.3" stroke="#000" stroke-width="1.2"/><text x="654.3" y="1578.8" font-size="18.5">y = -2.4925x + 1004.4</text><text x="690.6" y="1600.6" font-size="18.5">R² = 0.259 *</text><text x="768.7" y="1796.5" font-size="18.5">y = 0.2563x + 572.64</text><text x="805.0" y="1817.7" font-size="18.5">R² = 0.0194</text><text x="811" y="1886.3" text-anchor="middle" font-size="18.5">Physiological N use efficiency for biomass</text><text x="810" y="1906.9" text-anchor="middle" font-size="18.5">(g g<tspan dy="-6.7" font-size="12.0">-1</tspan><tspan dy="6.7">)</tspan></text></g>
<g id="pI"><text x="11.8" y="1974" class="lt">I</text><text x="123.8" y="2013.2" text-anchor="end" font-size="18.6">1000</text><text x="123.8" y="2111.7" text-anchor="end" font-size="18.6">800</text><line x1="144.5" y1="2105.6" x2="150.5" y2="2105.6" stroke="#222" stroke-width="1.3"/><text x="123.8" y="2210.2" text-anchor="end" font-size="18.6">600</text><line x1="144.5" y1="2204.1" x2="150.5" y2="2204.1" stroke="#222" stroke-width="1.3"/><text x="123.8" y="2308.7" text-anchor="end" font-size="18.6">400</text><text x="139.7" y="2329.6" text-anchor="middle" font-size="18.6">0</text><text x="238.9" y="2329.6" text-anchor="middle" font-size="18.6">100</text><line x1="243.7" y1="2302.6" x2="243.7" y2="2296.6" stroke="#222" stroke-width="1.3"/><text x="338.2" y="2329.6" text-anchor="middle" font-size="18.6">200</text><line x1="343.0" y1="2302.6" x2="343.0" y2="2296.6" stroke="#222" stroke-width="1.3"/><text x="437.4" y="2329.6" text-anchor="middle" font-size="18.6">300</text><line x1="143.8" y1="2007.1" x2="442.9" y2="2007.1" stroke="#000" stroke-width="1.4"/><line x1="442.2" y1="2007.1" x2="442.2" y2="2302.6" stroke="#000" stroke-width="1.4"/><line x1="143.8" y1="2302.6" x2="442.9" y2="2302.6" stroke="#000" stroke-width="1.4"/><line x1="144.5" y1="2007.1" x2="144.5" y2="2302.6" stroke="#000" stroke-width="1.4"/><circle cx="311.0" cy="2061.9" r="5.6" fill="#9c9c9c" stroke="#000" stroke-width="1.6"/><circle cx="293.6" cy="2083.7" r="5.6" fill="#9c9c9c" stroke="#000" stroke-width="1.6"/><circle cx="301.8" cy="2094.9" r="5.6" fill="#9c9c9c" stroke="#000" stroke-width="1.6"/><circle cx="319.9" cy="2119.8" r="5.6" fill="#9c9c9c" stroke="#000" stroke-width="1.6"/><circle cx="259.7" cy="2134.6" r="5.6" fill="#9c9c9c" stroke="#000" stroke-width="1.6"/><circle cx="273.3" cy="2151.0" r="5.6" fill="#9c9c9c" stroke="#000" stroke-width="1.6"/><circle cx="286.7" cy="2149.8" r="5.6" fill="#9c9c9c" stroke="#000" stroke-width="1.6"/><circle cx="279.8" cy="2174.8" r="5.6" fill="#9c9c9c" stroke="#000" stroke-width="1.6"/><circle cx="303.1" cy="2176.8" r="5.6" fill="#9c9c9c" stroke="#000" stroke-width="1.6"/><circle cx="246.5" cy="2206.0" r="5.6" fill="#9c9c9c" stroke="#000" stroke-width="1.6"/><circle cx="290.0" cy="2196.9" r="5.6" fill="#9c9c9c" stroke="#000" stroke-width="1.6"/><circle cx="286.4" cy="2201.0" r="5.6" fill="#9c9c9c" stroke="#000" stroke-width="1.6"/><circle cx="291.7" cy="2206.8" r="5.6" fill="#9c9c9c" stroke="#000" stroke-width="1.6"/><circle cx="304.5" cy="2196.9" r="5.6" fill="#9c9c9c" stroke="#000" stroke-width="1.6"/><circle cx="313.0" cy="2210.1" r="5.6" fill="#9c9c9c" stroke="#000" stroke-width="1.6"/><circle cx="277.7" cy="2236.8" r="5.6" fill="#9c9c9c" stroke="#000" stroke-width="1.6"/><circle cx="270.7" cy="2242.1" r="5.6" fill="#9c9c9c" stroke="#000" stroke-width="1.6"/><circle cx="365.5" cy="2172.3" r="5.6" fill="#9c9c9c" stroke="#000" stroke-width="1.6"/><rect x="271.9" y="2127.9" width="11.7" height="11.7" fill="#fff" stroke="#000" stroke-width="1.7"/><rect x="262.0" y="2143.0" width="11.7" height="11.7" fill="#fff" stroke="#000" stroke-width="1.7"/><rect x="242.3" y="2161.6" width="11.7" height="11.7" fill="#fff" stroke="#000" stroke-width="1.7"/><rect x="248.4" y="2175.5" width="11.7" height="11.7" fill="#fff" stroke="#000" stroke-width="1.7"/><rect x="269.1" y="2189.0" width="11.7" height="11.7" fill="#fff" stroke="#000" stroke-width="1.7"/><rect x="271.0" y="2197.7" width="11.7" height="11.7" fill="#fff" stroke="#000" stroke-width="1.7"/><rect x="323.6" y="2184.0" width="11.7" height="11.7" fill="#fff" stroke="#000" stroke-width="1.7"/><rect x="303.9" y="2198.5" width="11.7" height="11.7" fill="#fff" stroke="#000" stroke-width="1.7"/><rect x="307.1" y="2201.8" width="11.7" height="11.7" fill="#fff" stroke="#000" stroke-width="1.7"/><rect x="305.2" y="2207.0" width="11.7" height="11.7" fill="#fff" stroke="#000" stroke-width="1.7"/><rect x="324.9" y="2203.7" width="11.7" height="11.7" fill="#fff" stroke="#000" stroke-width="1.7"/><rect x="300.6" y="2221.5" width="11.7" height="11.7" fill="#fff" stroke="#000" stroke-width="1.7"/><rect x="289.9" y="2223.6" width="11.7" height="11.7" fill="#fff" stroke="#000" stroke-width="1.7"/><rect x="315.7" y="2220.6" width="11.7" height="11.7" fill="#fff" stroke="#000" stroke-width="1.7"/><rect x="351.1" y="2196.1" width="11.7" height="11.7" fill="#fff" stroke="#000" stroke-width="1.7"/><line x1="246.5" y1="2190.9" x2="365.5" y2="2132.8" stroke="#000" stroke-width="1.2"/><line x1="248.2" y1="2175.8" x2="357" y2="2227.0" stroke="#000" stroke-width="1.2"/><text x="158.1" y="2036.4" font-size="18.6">y = 0.9845x + 525.56</text><text x="195.0" y="2058" font-size="18.6">R² = 0.0607</text><text x="264.1" y="2267.4" font-size="18.6">y = -0.9485x + 756.59</text><text x="296.0" y="2289" font-size="18.6">R² = 0.2698 *</text><text x="276.7" y="2350.1" text-anchor="middle" font-size="18.45">Physiological P use efficiency for grain</text><text x="276.9" y="2370.8" text-anchor="middle" font-size="18.45">(g g<tspan dy="-6.6" font-size="12.0">-1</tspan><tspan dy="6.6">)</tspan></text><text transform="translate(76,2237.3) rotate(-90)" font-size="18.16">Grain yield<tspan x="98.6" y="-3.5" font-size="15.44">(</tspan><tspan x="107.5" y="0">g</tspan><tspan x="121.6">m</tspan><tspan x="136.2" y="-6.5" font-size="11.80">-2</tspan><tspan x="148.4" y="-3.5" font-size="15.44">)</tspan></text></g>
<g id="pJ"><text x="524.8" y="1974.8" class="lt">J</text><text x="618.5" y="2021.4" text-anchor="end" font-size="18.7">1000</text><text x="618.5" y="2117.4" text-anchor="end" font-size="18.7">800</text><line x1="639" y1="2111.2" x2="645" y2="2111.2" stroke="#222" stroke-width="1.3"/><text x="618.5" y="2213.4" text-anchor="end" font-size="18.7">600</text><line x1="639" y1="2207.2" x2="645" y2="2207.2" stroke="#222" stroke-width="1.3"/><text x="618.5" y="2309.4" text-anchor="end" font-size="18.7">400</text><text x="634.2" y="2330.3" text-anchor="middle" font-size="18.7">200</text><text x="737.4" y="2330.3" text-anchor="middle" font-size="18.7">300</text><line x1="742.2" y1="2303.2" x2="742.2" y2="2297.2" stroke="#222" stroke-width="1.3"/><text x="840.5" y="2330.3" text-anchor="middle" font-size="18.7">400</text><line x1="845.3" y1="2303.2" x2="845.3" y2="2297.2" stroke="#222" stroke-width="1.3"/><text x="943.7" y="2330.3" text-anchor="middle" font-size="18.7">500</text><line x1="638.3" y1="2015.2" x2="949.2" y2="2015.2" stroke="#888" stroke-width="1.2"/><line x1="948.5" y1="2015.2" x2="948.5" y2="2303.2" stroke="#000" stroke-width="1.4"/><line x1="638.3" y1="2303.2" x2="949.2" y2="2303.2" stroke="#000" stroke-width="1.1"/><line x1="639" y1="2015.2" x2="639" y2="2303.2" stroke="#000" stroke-width="1.8"/><circle cx="761.0" cy="2068.6" r="5.6" fill="#9c9c9c" stroke="#000" stroke-width="1.6"/><circle cx="775.4" cy="2089.9" r="5.6" fill="#9c9c9c" stroke="#000" stroke-width="1.6"/><circle cx="748.5" cy="2100.6" r="5.6" fill="#9c9c9c" stroke="#000" stroke-width="1.6"/><circle cx="817.0" cy="2124.9" r="5.6" fill="#9c9c9c" stroke="#000" stroke-width="1.6"/><circle cx="718.7" cy="2139.0" r="5.6" fill="#9c9c9c" stroke="#000" stroke-width="1.6"/><circle cx="748.8" cy="2154.8" r="5.6" fill="#9c9c9c" stroke="#000" stroke-width="1.6"/><circle cx="789.0" cy="2154.1" r="5.6" fill="#9c9c9c" stroke="#000" stroke-width="1.6"/><circle cx="731.6" cy="2178.5" r="5.6" fill="#9c9c9c" stroke="#000" stroke-width="1.6"/><circle cx="824.2" cy="2176.0" r="5.6" fill="#9c9c9c" stroke="#000" stroke-width="1.6"/><circle cx="829.2" cy="2180.6" r="5.6" fill="#9c9c9c" stroke="#000" stroke-width="1.6"/><circle cx="807.0" cy="2200.4" r="5.6" fill="#9c9c9c" stroke="#000" stroke-width="1.6"/><circle cx="812.0" cy="2205.3" r="5.6" fill="#9c9c9c" stroke="#000" stroke-width="1.6"/><circle cx="819.2" cy="2210.1" r="5.6" fill="#9c9c9c" stroke="#000" stroke-width="1.6"/><circle cx="831.4" cy="2215.8" r="5.6" fill="#9c9c9c" stroke="#000" stroke-width="1.6"/><circle cx="749.5" cy="2210.1" r="5.6" fill="#9c9c9c" stroke="#000" stroke-width="1.6"/><circle cx="803.7" cy="2239.2" r="5.6" fill="#9c9c9c" stroke="#000" stroke-width="1.6"/><circle cx="763.9" cy="2243.8" r="5.6" fill="#9c9c9c" stroke="#000" stroke-width="1.6"/><rect x="725.0" y="2132.8" width="11.7" height="11.7" fill="#fff" stroke="#000" stroke-width="1.7"/><rect x="725.0" y="2147.5" width="11.7" height="11.7" fill="#fff" stroke="#000" stroke-width="1.7"/><rect x="734.1" y="2165.4" width="11.7" height="11.7" fill="#fff" stroke="#000" stroke-width="1.7"/><rect x="701.3" y="2179.5" width="11.7" height="11.7" fill="#fff" stroke="#000" stroke-width="1.7"/><rect x="748.4" y="2192.7" width="11.7" height="11.7" fill="#fff" stroke="#000" stroke-width="1.7"/><rect x="753.3" y="2197.7" width="11.7" height="11.7" fill="#fff" stroke="#000" stroke-width="1.7"/><rect x="743.7" y="2200.3" width="11.7" height="11.7" fill="#fff" stroke="#000" stroke-width="1.7"/><rect x="788.9" y="2197.7" width="11.7" height="11.7" fill="#fff" stroke="#000" stroke-width="1.7"/><rect x="787.5" y="2206.1" width="11.7" height="11.7" fill="#fff" stroke="#000" stroke-width="1.7"/><rect x="799.3" y="2210.0" width="11.7" height="11.7" fill="#fff" stroke="#000" stroke-width="1.7"/><rect x="825.1" y="2202.1" width="11.7" height="11.7" fill="#fff" stroke="#000" stroke-width="1.7"/><rect x="802.1" y="2226.2" width="11.7" height="11.7" fill="#fff" stroke="#000" stroke-width="1.7"/><rect x="861.4" y="2187.9" width="11.7" height="11.7" fill="#fff" stroke="#000" stroke-width="1.7"/><rect x="890.1" y="2207.0" width="11.7" height="11.7" fill="#fff" stroke="#000" stroke-width="1.7"/><rect x="912.6" y="2199.0" width="11.7" height="11.7" fill="#fff" stroke="#000" stroke-width="1.7"/><rect x="829.8" y="2221.9" width="11.7" height="11.7" fill="#fff" stroke="#000" stroke-width="1.7"/><rect x="847.0" y="2223.1" width="11.7" height="11.7" fill="#fff" stroke="#000" stroke-width="1.7"/><rect x="864.2" y="2224.8" width="11.7" height="11.7" fill="#fff" stroke="#000" stroke-width="1.7"/><line x1="718.7" y1="2144.5" x2="831.4" y2="2192.9" stroke="#000" stroke-width="1.2"/><line x1="707.2" y1="2177.5" x2="918.5" y2="2231.2" stroke="#000" stroke-width="1.2"/><text x="643.3" y="2038.5" font-size="18.7">y = -0.9238x + 986.8</text><text x="678.4" y="2059.7" font-size="18.7">R² = 0.0951</text><text x="760.7" y="2268.8" font-size="18.7">y = -0.5454x + 806.9</text><text x="784.1" y="2290.2" font-size="18.7">R² = 0.3749 **</text><text x="812.3" y="2352.3" text-anchor="middle" font-size="18.75">Physiological P use efficiency for biomass</text><text x="812.7" y="2373.6" text-anchor="middle" font-size="18.75">(g g<tspan dy="-6.8" font-size="12.2">-1</tspan><tspan dy="6.8">)</tspan></text></g>
<circle cx="175.8" cy="46.6" r="5.6" fill="#9c9c9c" stroke="#000" stroke-width="1.3"/><text x="185.3" y="52.6" font-size="20">Early season</text><rect x="324.4" y="41.0" width="11.2" height="11.2" fill="#fff" stroke="#111" stroke-width="1.2"/><text x="341" y="52.6" font-size="20">Late season</text>
<circle cx="667.2" cy="46.7" r="5.6" fill="#9c9c9c" stroke="#000" stroke-width="1.3"/><text x="677.3" y="52.7" font-size="20">Early season</text><rect x="817.3" y="41.1" width="11.2" height="11.2" fill="#fff" stroke="#555" stroke-width="1.2"/><text x="833.2" y="52.7" font-size="20">Late season</text>
</svg>
</body></html>
